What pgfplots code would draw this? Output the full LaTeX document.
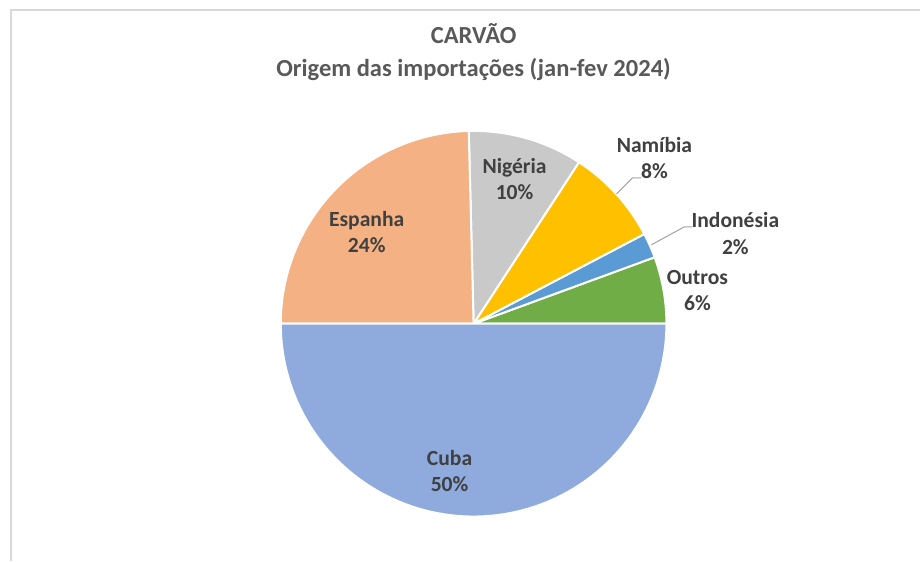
\documentclass[border=0pt]{standalone}
\usepackage{pgfplots}
\pgfplotsset{compat=1.18}
\usepackage{pgfplotstable}
\usepackage{fontspec}
\setmainfont{Carlito}
\definecolor{c0}{HTML}{70AD47}
\definecolor{c1}{HTML}{5B9BD5}
\definecolor{c2}{HTML}{FFC000}
\definecolor{c3}{HTML}{C9C9C9}
\definecolor{c4}{HTML}{F4B183}
\definecolor{c5}{HTML}{8FAADC}
\definecolor{txt}{HTML}{404040}
\definecolor{ttl}{HTML}{595959}
\definecolor{frame}{HTML}{D9D9D9}
\definecolor{lead}{HTML}{A6A6A6}
\tikzset{
  lab/.style={anchor=base,font=\bfseries\fontsize{16.2}{19}\selectfont,text=txt},
  tit/.style={anchor=base,font=\bfseries\fontsize{18.4}{22}\selectfont,text=ttl}}
\pgfplotstableread{
pais pct
Outros 5.6
Indonesia 2.1
Namibia 8.1
Nigeria 9.6
Espanha 24.6
Cuba 50.0
}\piedata
\begin{document}
\begin{tikzpicture}
\def\cum{0}%
\pgfplotsforeachungrouped \i in {0,...,5}{%
  \pgfplotstablegetelem{\i}{pct}\of\piedata
  \expandafter\xdef\csname sa\i\endcsname{\cum}%
  \pgfmathsetmacro\cum{\cum+3.6*\pgfplotsretval}%
  \expandafter\xdef\csname ea\i\endcsname{\cum}%
}%
\begin{axis}[x=0.75pt,y=0.75pt,xmin=0,xmax=921,ymin=0,ymax=561,
  hide axis,clip=false,scale only axis]
\path[fill=white] (0,0) rectangle (921,561);
\draw[frame,line width=1.2pt] (11,0) -- (11,551) -- (921,551);
\pgfplotsinvokeforeach{0,...,5}{
  \addplot[draw=white,line width=1.5pt,fill=c#1,
    domain=\csname sa#1\endcsname:\csname ea#1\endcsname,samples=90]
    ({474+193*cos(x)},{237+193*sin(x)}) -- (474,237) -- cycle;
}
\draw[lead,line width=0.8pt] (617,367) -- (633,383) -- (642,383);
\draw[lead,line width=0.8pt] (652,316) -- (685,334) -- (693,334);
\node[tit] at (474,517) {CARVÃO};
\node[tit] at (474,484) {Origem das importações (jan-fev 2024)};
\node[lab] at (515,387) {Nigéria};
\node[lab] at (515,361) {10\%};
\node[lab] at (367,334) {Espanha};
\node[lab] at (367,308) {24\%};
\node[lab] at (655,408) {Namíbia};
\node[lab] at (655,382) {8\%};
\node[lab] at (736,333) {Indonésia};
\node[lab] at (736,306) {2\%};
\node[lab] at (698,276) {Outros};
\node[lab] at (698,250) {6\%};
\node[lab] at (450,95) {Cuba};
\node[lab] at (450,69) {50\%};
\end{axis}
\end{tikzpicture}
\end{document}
